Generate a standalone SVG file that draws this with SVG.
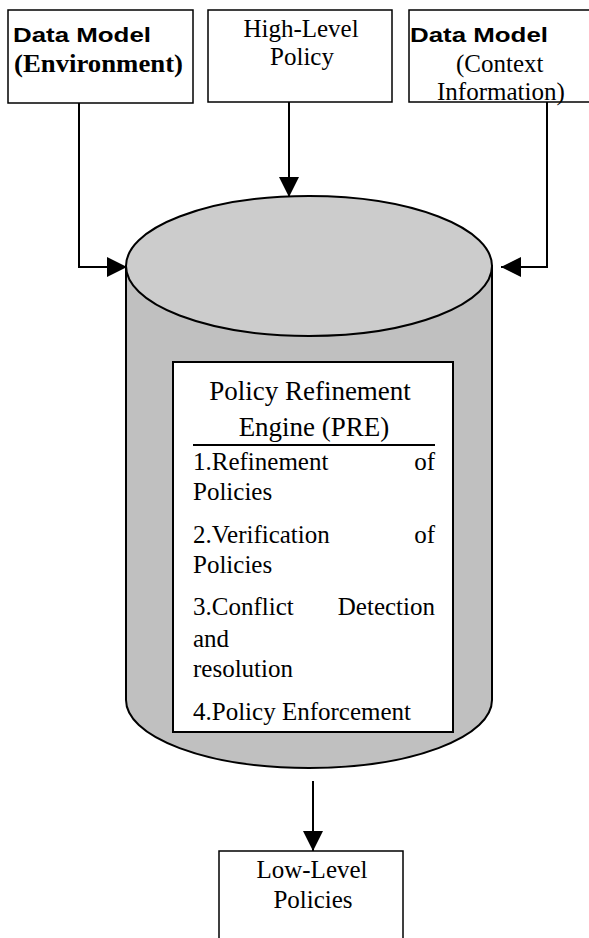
<svg xmlns="http://www.w3.org/2000/svg" width="589" height="938" viewBox="0 0 589 938">
<defs>
<style>
.box{fill:#fff;stroke:#000;stroke-width:1.5}
.conn{fill:none;stroke:#000;stroke-width:2}
.sans{font-family:"Liberation Sans",Arial,sans-serif;font-weight:bold;font-size:20px;fill:#000}
.serif{font-family:"Liberation Serif","Times New Roman",serif;font-size:25px;fill:#000}
.title{font-family:"Liberation Serif","Times New Roman",serif;font-size:27px;fill:#000}
.bold{font-weight:bold}
</style>
<marker id="arr" viewBox="0 0 20 20" refX="20" refY="10" markerWidth="20" markerHeight="20" markerUnits="userSpaceOnUse" orient="auto">
<path d="M0,0 L20,10 L0,20 Z" fill="#000"/>
</marker>
</defs>
<rect width="589" height="938" fill="#fff"/>

<g id="cylinder">
<path d="M126,266 L126,700 A183,68 0 0 0 492,700 L492,266 Z" fill="#c0c0c0" stroke="#000" stroke-width="2"/>
<ellipse cx="309" cy="266" rx="183" ry="70" fill="#cccccc" stroke="#000" stroke-width="2"/>
</g>

<g id="pre">
<rect x="173" y="362" width="280" height="370" fill="#fff" stroke="#000" stroke-width="2"/>
<text class="title" x="310" y="400" text-anchor="middle">Policy Refinement</text>
<text class="title" x="314" y="436" text-anchor="middle">Engine (PRE)</text>
<line x1="193" y1="445" x2="435" y2="445" stroke="#000" stroke-width="2"/>
<text class="serif" x="193" y="470">1.Refinement</text>
<text class="serif" x="435" y="470" text-anchor="end">of</text>
<text class="serif" x="193" y="500">Policies</text>
<text class="serif" x="193" y="543">2.Verification</text>
<text class="serif" x="435" y="543" text-anchor="end">of</text>
<text class="serif" x="193" y="573">Policies</text>
<text class="serif" x="193" y="615">3.Conflict</text>
<text class="serif" x="435" y="615" text-anchor="end">Detection</text>
<text class="serif" x="193" y="647">and</text>
<text class="serif" x="193" y="677">resolution</text>
<text class="serif" x="193" y="720">4.Policy Enforcement</text>
</g>

<g id="dm-env">
<rect class="box" x="8" y="10" width="185" height="93"/>
<text class="sans" x="13" y="42" textLength="138" lengthAdjust="spacingAndGlyphs">Data Model</text>
<text class="serif bold" x="14" y="72" textLength="169" lengthAdjust="spacingAndGlyphs">(Environment)</text>
</g>

<g id="hl-policy">
<rect class="box" x="208" y="10" width="184" height="92"/>
<text class="serif" x="301" y="37" text-anchor="middle">High-Level</text>
<text class="serif" x="302" y="65" text-anchor="middle">Policy</text>
</g>

<g id="dm-ctx">
<rect class="box" x="409" y="10" width="200" height="92"/>
<text class="sans" x="410" y="42" textLength="138" lengthAdjust="spacingAndGlyphs">Data Model</text>
<text class="serif" x="456" y="72">(Context</text>
<text class="serif" x="437" y="100">Information)</text>
</g>

<g id="ll-policies">
<rect class="box" x="219" y="851" width="184" height="100"/>
<text class="serif" x="312" y="878" text-anchor="middle">Low-Level</text>
<text class="serif" x="313" y="908" text-anchor="middle">Policies</text>
</g>

<g id="connectors">
<polyline class="conn" points="79,103 79,267 127,267" marker-end="url(#arr)"/>
<polyline class="conn" points="289,102 289,197" marker-end="url(#arr)"/>
<polyline class="conn" points="547,102 547,267 501,267" marker-end="url(#arr)"/>
<polyline class="conn" points="313,781 313,851" marker-end="url(#arr)"/>
</g>
</svg>
